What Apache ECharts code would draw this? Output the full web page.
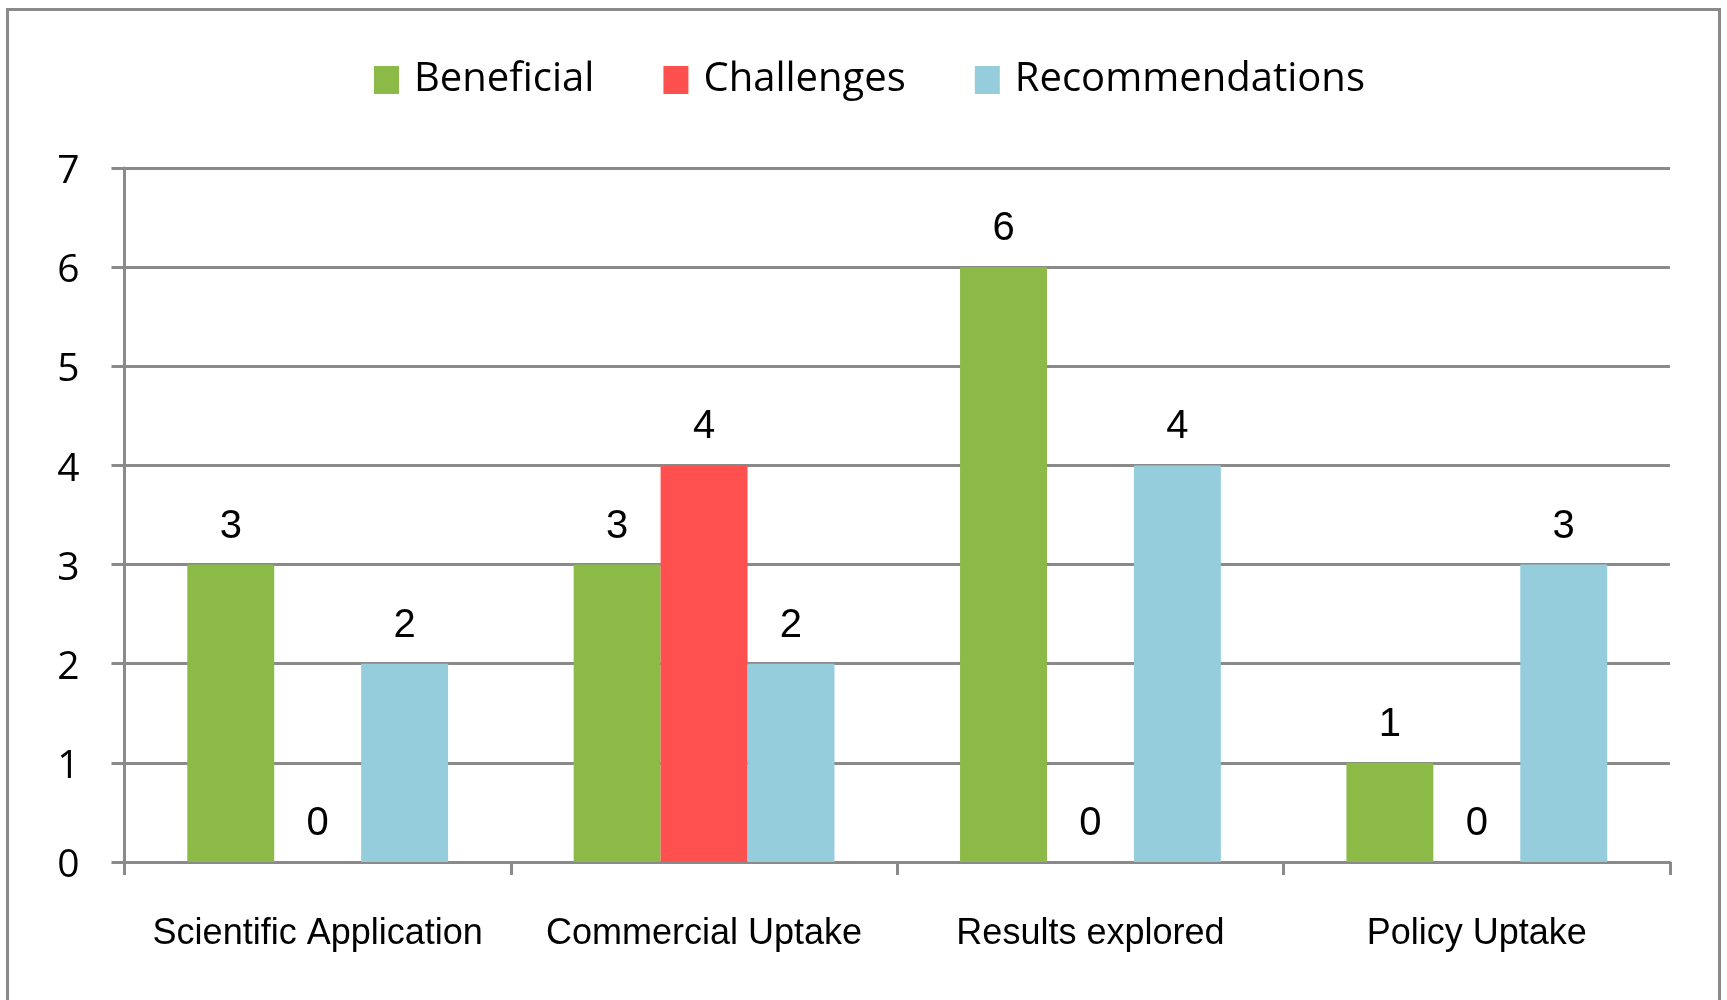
<!DOCTYPE html>
<html>
<head>
<meta charset="utf-8">
<script src="https://cdn.jsdelivr.net/npm/echarts@6/dist/echarts.min.js"></script>
<style>
html,body{margin:0;padding:0;background:#fff;}
#chart{width:1727px;height:1000px;}
</style>
</head>
<body>
<div id="chart"></div>
<script>
var categories = ['Scientific Application', 'Commercial Uptake', 'Results explored', 'Policy Uptake'];
var seriesNames = ['Beneficial', 'Challenges', 'Recommendations'];
var beneficial = [3, 3, 6, 1];
var challenges = [0, 4, 0, 0];
var recommendations = [2, 2, 4, 3];
var yTicks = [0, 1, 2, 3, 4, 5, 6, 7];

var colors = ['#8BBA47', '#FF5050', '#95CDDD'];
var gray = '#8a8a8a';
var narrow = "'Liberation Sans Narrow', 'Arial Narrow', 'Liberation Sans', Arial, sans-serif";
var calibriLike = "'Open Sans', Lato, sans-serif";

var labelStyle = {
  show: true, position: 'top', distance: 18,
  color: '#000', fontFamily: narrow, fontSize: 40
};

var chart = echarts.init(document.getElementById('chart'), null, {renderer: 'canvas'});
chart.setOption({
  animation: false,
  backgroundColor: '#fff',
  color: colors,
  graphic: [{
    type: 'rect',
    shape: {x: 7.5, y: 9.5, width: 1712, height: 1100},
    style: {fill: 'none', stroke: gray, lineWidth: 3},
    silent: true, z: 100
  }],
  legend: {
    data: seriesNames,
    top: 60, left: 374, padding: 0,
    icon: 'rect', itemWidth: 25, itemHeight: 28, itemGap: 69,
    textStyle: {fontFamily: calibriLike, fontSize: 40, color: '#000', padding: [0, 0, 0, 10]}
  },
  grid: {left: 124.5, right: 57, top: 168, bottom: 138, containLabel: false},
  xAxis: {
    type: 'category', data: categories,
    axisLine: {show: true, lineStyle: {color: gray, width: 3}},
    axisTick: {show: true, length: 13, lineStyle: {color: gray, width: 3}},
    axisLabel: {color: '#000', fontFamily: narrow, fontSize: 36, margin: 54, interval: 0}
  },
  yAxis: {
    type: 'value', min: yTicks[0], max: yTicks[yTicks.length - 1], interval: 1,
    axisLine: {show: true, lineStyle: {color: gray, width: 3}},
    axisTick: {show: true, length: 13, lineStyle: {color: gray, width: 3}},
    axisLabel: {
      color: '#000', fontFamily: calibriLike, fontSize: 39, margin: 45,
      formatter: function (v) { return '{a|' + v + '}'; },
      rich: {a: {color: '#000', fontFamily: calibriLike, fontSize: 39, padding: [8, 0, 0, 0]}}
    },
    splitLine: {show: true, lineStyle: {color: gray, width: 3}}
  },
  series: [
    {name: seriesNames[0], type: 'bar', data: beneficial, barGap: '0%', barCategoryGap: '32.5%', label: labelStyle},
    {name: seriesNames[1], type: 'bar', data: challenges, barGap: '0%', barCategoryGap: '32.5%', label: labelStyle},
    {name: seriesNames[2], type: 'bar', data: recommendations, barGap: '0%', barCategoryGap: '32.5%', label: labelStyle}
  ]
});
</script>
</body>
</html>
